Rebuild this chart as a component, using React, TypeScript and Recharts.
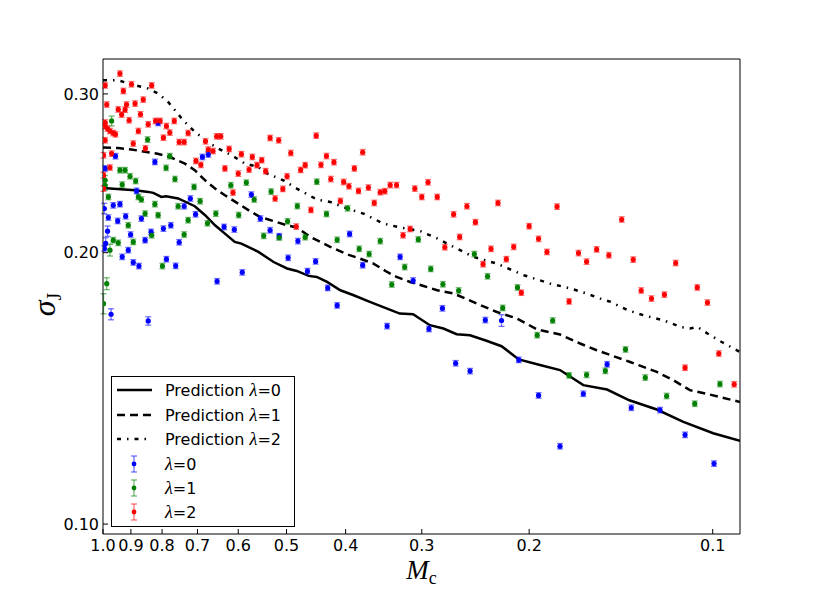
import React from 'react';
import { ComposedChart, Scatter, Line, XAxis, YAxis, ErrorBar, Legend } from 'recharts';

// ---------- axis ticks ----------
const X_TICKS = [1.0, 0.9, 0.8, 0.7, 0.6, 0.5, 0.4, 0.3, 0.2, 0.1];
const Y_TICKS = [0.1, 0.2, 0.3];
const X_DOMAIN: [number, number] = [0.0902, 1.0];
const Y_DOMAIN: [number, number] = [0.0975, 0.328];

// ---------- prediction curves [Mc, sigma_J] ----------
const PRED_L0: number[][] = [
  [1.0, 0.236], [0.886, 0.2346], [0.843, 0.2336], [0.827, 0.233], [0.802, 0.2306], [0.788, 0.231],
  [0.753, 0.2297], [0.707, 0.2252], [0.68, 0.2201], [0.655, 0.2145], [0.631, 0.21], [0.608, 0.2056],
  [0.593, 0.2047], [0.556, 0.2004], [0.525, 0.1953], [0.499, 0.1921], [0.481, 0.1909], [0.46, 0.1885],
  [0.446, 0.188], [0.429, 0.1856], [0.408, 0.1817], [0.388, 0.1794], [0.365, 0.1764], [0.342, 0.1734],
  [0.326, 0.1712], [0.31, 0.1709], [0.291, 0.1662], [0.2765, 0.1648], [0.263, 0.1624], [0.25, 0.162],
  [0.235, 0.1597], [0.222, 0.1575], [0.208, 0.1523], [0.192, 0.1501], [0.178, 0.1482], [0.163, 0.1426],
  [0.149, 0.141], [0.137, 0.1372], [0.1235, 0.134], [0.1117, 0.1298], [0.0998, 0.1261], [0.0902, 0.1237],
];
const PRED_L1: number[][] = [
  [1.0, 0.2616], [0.944, 0.2613], [0.898, 0.2603], [0.817, 0.2576], [0.777, 0.2554], [0.734, 0.2511],
  [0.707, 0.2469], [0.68, 0.2406], [0.655, 0.2356], [0.631, 0.2316], [0.6, 0.2267], [0.571, 0.2219],
  [0.552, 0.2191], [0.499, 0.2145], [0.481, 0.2133], [0.457, 0.2082], [0.424, 0.203], [0.398, 0.1992],
  [0.379, 0.197], [0.36, 0.1945], [0.342, 0.1904], [0.33, 0.188], [0.3135, 0.1856], [0.298, 0.1837],
  [0.283, 0.1817], [0.266, 0.1802], [0.244, 0.1757], [0.226, 0.1719], [0.2096, 0.1691], [0.194, 0.1644],
  [0.178, 0.1623], [0.165, 0.1586], [0.155, 0.1559], [0.1366, 0.1513], [0.1235, 0.1475], [0.116, 0.1444],
  [0.109, 0.1408], [0.102, 0.1394], [0.0902, 0.1366],
];
const PRED_L2: number[][] = [
  [1.0, 0.3106], [0.944, 0.3106], [0.898, 0.3075], [0.843, 0.3041], [0.812, 0.3003], [0.782, 0.2939],
  [0.762, 0.2877], [0.739, 0.2805], [0.711, 0.2734], [0.68, 0.2665], [0.647, 0.2609], [0.615, 0.2565],
  [0.585, 0.2511], [0.556, 0.249], [0.545, 0.2458], [0.506, 0.2406], [0.481, 0.2356], [0.446, 0.2291],
  [0.424, 0.2277], [0.398, 0.2239], [0.374, 0.221], [0.347, 0.2155], [0.3256, 0.2133], [0.302, 0.2114],
  [0.283, 0.2074], [0.2696, 0.2039], [0.247, 0.1979], [0.226, 0.1945], [0.204, 0.1888], [0.185, 0.1849],
  [0.171, 0.1825], [0.161, 0.1802], [0.153, 0.1779], [0.147, 0.1764], [0.138, 0.1727], [0.13, 0.1705],
  [0.1205, 0.1683], [0.113, 0.1655], [0.109, 0.1648], [0.106, 0.1655], [0.102, 0.1627], [0.0968, 0.1593],
  [0.0902, 0.1552],
];

// ---------- measurements [Mc, sigma_J, (error)] ----------
const OBS_L0: number[][] = [
  [0.812, 0.2786], [0.954, 0.2559], [0.822, 0.2522], [0.687, 0.2554], [0.672, 0.257], [0.992, 0.248],
  [0.881, 0.2342], [0.719, 0.2297], [0.571, 0.232], [0.736, 0.2252], [0.962, 0.2257], [0.938, 0.2264],
  [0.995, 0.2239, 0.003], [0.98, 0.2188], [0.918, 0.2195], [0.865, 0.2182], [0.705, 0.2206], [0.946, 0.2169],
  [0.796, 0.2127], [0.774, 0.2145], [0.633, 0.2136], [0.609, 0.2122], [0.983, 0.2113, 0.0028], [0.901, 0.2095],
  [0.834, 0.2109], [0.853, 0.2065], [0.99, 0.2048, 0.003], [0.75, 0.2054], [0.995, 0.2022], [0.909, 0.2013],
  [0.93, 0.1979], [0.787, 0.1967], [0.892, 0.1951], [0.873, 0.1933], [0.76, 0.1934], [0.591, 0.1902],
  [0.65, 0.1859], [0.97, 0.1709, 0.0024], [0.843, 0.168, 0.0018],
  [0.552, 0.2182], [0.532, 0.2118], [0.514, 0.2086], [0.479, 0.206], [0.394, 0.2098], [0.497, 0.1974],
  [0.448, 0.1956], [0.462, 0.1908], [0.375, 0.1937], [0.3256, 0.1979], [0.31, 0.1863], [0.428, 0.1828],
  [0.413, 0.1748], [0.2775, 0.1735], [0.342, 0.1658], [0.292, 0.1646],
  [0.236, 0.1684], [0.222, 0.1682, 0.0025], [0.208, 0.1521], [0.264, 0.1508], [0.25, 0.1478], [0.193, 0.1389],
  [0.163, 0.1395], [0.178, 0.122],
  [0.149, 0.1504], [0.136, 0.1346], [0.122, 0.1338], [0.111, 0.1256], [0.0995, 0.1167],
];
const OBS_L1: number[][] = [
  [0.968, 0.28, 0.0035], [0.845, 0.267], [0.938, 0.2469], [0.92, 0.2469], [0.903, 0.2431], [0.788, 0.2484],
  [0.777, 0.2559], [0.884, 0.2402], [0.762, 0.2414], [0.992, 0.2406, 0.003], [0.992, 0.2376, 0.003], [0.93, 0.238],
  [0.98, 0.2306], [0.875, 0.2306], [0.865, 0.2291], [0.709, 0.2366], [0.617, 0.2376], [0.582, 0.2392],
  [0.565, 0.2291], [0.822, 0.2264], [0.753, 0.2252], [0.693, 0.2281], [0.853, 0.221], [0.812, 0.2201],
  [0.653, 0.221], [0.599, 0.2202], [0.909, 0.2145], [0.725, 0.2173], [0.674, 0.2156], [0.832, 0.2091],
  [0.736, 0.2095], [0.962, 0.2065], [0.944, 0.2051], [0.892, 0.2056], [0.974, 0.2013, 0.003], [0.799, 0.1933],
  [0.986, 0.1848, 0.0028], [0.998, 0.1756, 0.0045],
  [0.446, 0.2398], [0.53, 0.2338], [0.48, 0.2253], [0.397, 0.224], [0.43, 0.2208], [0.498, 0.2167],
  [0.545, 0.2088], [0.514, 0.2079], [0.466, 0.2081], [0.413, 0.2067], [0.351, 0.206], [0.304, 0.2069],
  [0.38, 0.202], [0.366, 0.1993], [0.32, 0.1928], [0.29, 0.1919], [0.336, 0.1844], [0.277, 0.1845],
  [0.246, 0.1993], [0.234, 0.1883], [0.261, 0.1816], [0.209, 0.183], [0.221, 0.1737], [0.183, 0.1682],
  [0.194, 0.162], [0.172, 0.1462], [0.161, 0.1464],
  [0.139, 0.1562], [0.15, 0.1479], [0.129, 0.1454], [0.119, 0.1387], [0.107, 0.136], [0.0973, 0.143],
];
const OBS_L2: number[][] = [
  [0.938, 0.316], [0.992, 0.3066], [0.898, 0.3075], [0.832, 0.3066], [0.926, 0.3023], [0.859, 0.2957],
  [0.986, 0.292], [0.915, 0.292], [0.886, 0.2927], [0.944, 0.2884], [0.92, 0.2882], [0.868, 0.2848],
  [0.932, 0.2846], [0.906, 0.2805], [0.992, 0.2789], [0.843, 0.2776], [0.82, 0.28], [0.806, 0.28],
  [0.787, 0.2764], [0.764, 0.28], [0.992, 0.2762], [0.983, 0.2746], [0.974, 0.2729], [0.962, 0.2715],
  [0.954, 0.2706], [0.875, 0.2729], [0.777, 0.2718], [0.725, 0.2715], [0.796, 0.2683], [0.992, 0.2665],
  [0.75, 0.2653], [0.736, 0.2653], [0.892, 0.2643], [0.679, 0.2658], [0.651, 0.2692], [0.641, 0.2692],
  [0.852, 0.2611], [0.672, 0.2603], [0.66, 0.2593], [0.621, 0.2607], [0.593, 0.2572], [0.569, 0.2554],
  [0.968, 0.2576], [0.998, 0.2565], [0.704, 0.2528], [0.691, 0.2503], [0.631, 0.248], [0.6, 0.2448],
  [0.576, 0.2473], [0.974, 0.2486], [0.998, 0.2438], [0.998, 0.2356], [0.612, 0.2332],
  [0.532, 0.2681], [0.515, 0.2665], [0.447, 0.2697], [0.492, 0.258], [0.549, 0.2533], [0.559, 0.2501],
  [0.43, 0.256], [0.375, 0.2585], [0.466, 0.2501], [0.439, 0.2503], [0.418, 0.252], [0.474, 0.2471],
  [0.387, 0.248], [0.541, 0.2463], [0.499, 0.2431], [0.423, 0.2414], [0.403, 0.2396], [0.395, 0.237],
  [0.381, 0.2342], [0.367, 0.2362], [0.351, 0.2334], [0.345, 0.234], [0.338, 0.2377], [0.33, 0.2377],
  [0.308, 0.2356], [0.293, 0.2394], [0.3, 0.2306], [0.283, 0.2306], [0.507, 0.2354], [0.522, 0.2297],
  [0.408, 0.2283], [0.359, 0.2271], [0.456, 0.2231], [0.482, 0.2138], [0.3135, 0.2125], [0.322, 0.2091],
  [0.275, 0.2028],
  [0.253, 0.2252], [0.225, 0.2271], [0.18, 0.225], [0.266, 0.2206], [0.245, 0.2162], [0.2, 0.214],
  [0.26, 0.2082], [0.193, 0.2072], [0.231, 0.202], [0.212, 0.203], [0.187, 0.2004], [0.166, 0.1998],
  [0.155, 0.2017], [0.218, 0.1967], [0.238, 0.1942], [0.161, 0.1955], [0.206, 0.1806], [0.172, 0.1766],
  [0.141, 0.2177], [0.148, 0.1987], [0.135, 0.1965], [0.115, 0.1948], [0.131, 0.1816], [0.126, 0.1779],
  [0.12, 0.1797], [0.106, 0.183], [0.102, 0.1761], [0.0977, 0.1546], [0.111, 0.1491], [0.0922, 0.1429],
];

const PRED_LABELS = ['Prediction \u03bb=0', 'Prediction \u03bb=1', 'Prediction \u03bb=2'];
const OBS_LABELS = ['\u03bb=0', '\u03bb=1', '\u03bb=2'];
const OBS_COLORS = ['#0000ff', '#008000', '#ff0000'];
const PRED_DASH = ['0', '8 5', '4 6 1.5 6'];

const toLine = (arr: number[][]) => arr.map(([M, s]) => ({ M, s }));
const toObs = (arr: number[][]) => arr.map(([M, s, e]) => ({ M, s, e: e ?? s * 0.007 }));

const predData = [PRED_L0, PRED_L1, PRED_L2].map(toLine);
const obsData = [OBS_L0, OBS_L1, OBS_L2].map(toObs);

const SANS = 'DejaVu Sans, sans-serif';
const SERIF = 'Liberation Serif, DejaVu Serif, serif';

const makeDot = (color: string) => (props: any) => (
  <circle cx={props.cx} cy={props.cy} r={2.6} fill={color} stroke="none" />
);

const XTitle = (props: any) => {
  const vb = props.viewBox || { x: 103, y: 534, width: 637 };
  return (
    <text x={vb.x + vb.width / 2} y={vb.y + 45} textAnchor="middle" fontFamily={SERIF} fontSize={27} fill="#000">
      <tspan fontStyle="italic">M</tspan>
      <tspan fontSize={18} dy={5}>c</tspan>
    </text>
  );
};

const YTitle = (props: any) => {
  const vb = props.viewBox || { x: 43, y: 59, width: 60, height: 475 };
  const x = 55;
  const y = vb.y + vb.height / 2 + 8;
  return (
    <text x={x} y={y} transform={`rotate(-90, ${x}, ${y})`} textAnchor="middle" fontFamily={SERIF} fontSize={32} fill="#000">
      <tspan fontStyle="italic">{'\u03c3'}</tspan>
      <tspan fontSize={20} dy={6}>J</tspan>
    </text>
  );
};

const LegendLabel = ({ text, x, y }: { text: string; x: number; y: number }) => {
  const idx = text.indexOf('\u03bb');
  const before = text.slice(0, idx);
  const after = text.slice(idx + 1);
  return (
    <text x={x} y={y} fontFamily={SANS} fontSize={16} fill="#000">
      {before ? <tspan>{before}</tspan> : null}
      <tspan fontFamily={SERIF} fontStyle="italic" fontSize={18}>{'\u03bb'}</tspan>
      <tspan fontFamily={SANS} fontSize={16}>{after}</tspan>
    </text>
  );
};

const LegendBox = () => {
  const rows = [13, 38, 62, 87, 111, 135];
  return (
    <div style={{ width: 184, height: 151, boxSizing: 'border-box', border: '1px solid #000', background: '#fff' }}>
      <svg width={182} height={149} style={{ display: 'block' }}>
        {PRED_LABELS.map((lab, i) => (
          <g key={lab}>
            <line x1={5} x2={40} y1={rows[i]} y2={rows[i]} stroke="#000" strokeWidth={2.5}
              strokeDasharray={PRED_DASH[i] === '0' ? undefined : PRED_DASH[i]} />
            <LegendLabel text={lab} x={53} y={rows[i] + 6} />
          </g>
        ))}
        {OBS_LABELS.map((lab, i) => {
          const cy = rows[i + 3];
          const c = OBS_COLORS[i];
          return (
            <g key={lab}>
              <line x1={22} x2={22} y1={cy - 8} y2={cy + 8} stroke={c} strokeOpacity={0.55} strokeWidth={1.3} />
              <line x1={19} x2={25} y1={cy - 8} y2={cy - 8} stroke={c} strokeOpacity={0.55} strokeWidth={1.3} />
              <line x1={19} x2={25} y1={cy + 8} y2={cy + 8} stroke={c} strokeOpacity={0.55} strokeWidth={1.3} />
              <circle cx={22} cy={cy} r={2.4} fill={c} />
              <LegendLabel text={lab} x={53} y={cy + 6} />
            </g>
          );
        })}
      </svg>
    </div>
  );
};

const tickStyle = { fill: '#000', fontSize: 16, fontFamily: SANS };

export default function App() {
  return (
    <div style={{ position: 'absolute', left: 0, top: 0, background: '#fff' }}>
      <ComposedChart width={822} height={594} margin={{ top: 58, right: 81, bottom: 30, left: 43 }}>
        <XAxis
          xAxisId={0}
          dataKey="M"
          type="number"
          scale="log"
          domain={X_DOMAIN}
          allowDataOverflow
          reversed
          ticks={X_TICKS}
          interval={0}
          tickFormatter={(v: number) => v.toFixed(1)}
          tick={tickStyle}
          tickSize={-5}
          tickMargin={11}
          height={30}
          stroke="#000"
          tickLine={{ stroke: '#000' }}
          axisLine={{ stroke: '#000' }}
          label={{ content: XTitle }}
        />
        <XAxis
          xAxisId="top"
          orientation="top"
          dataKey="M"
          type="number"
          scale="log"
          domain={X_DOMAIN}
          allowDataOverflow
          reversed
          ticks={X_TICKS}
          interval={0}
          tick={false}
          tickSize={-5}
          height={1}
          stroke="#000"
          tickLine={{ stroke: '#000' }}
          axisLine={{ stroke: '#000' }}
        />
        <YAxis
          yAxisId={0}
          dataKey="s"
          type="number"
          scale="log"
          domain={Y_DOMAIN}
          allowDataOverflow
          ticks={Y_TICKS}
          interval={0}
          tickFormatter={(v: number) => v.toFixed(2)}
          tick={tickStyle}
          tickSize={-5}
          tickMargin={9}
          width={60}
          stroke="#000"
          tickLine={{ stroke: '#000' }}
          axisLine={{ stroke: '#000' }}
          label={{ content: YTitle }}
        />
        <YAxis
          yAxisId="right"
          orientation="right"
          dataKey="s"
          type="number"
          scale="log"
          domain={Y_DOMAIN}
          allowDataOverflow
          ticks={Y_TICKS}
          interval={0}
          tick={false}
          tickSize={-5}
          width={1}
          stroke="#000"
          tickLine={{ stroke: '#000' }}
          axisLine={{ stroke: '#000' }}
        />
        {predData.map((d, i) => (
          <Line
            key={PRED_LABELS[i]}
            name={PRED_LABELS[i]}
            data={d}
            dataKey="s"
            xAxisId={0}
            yAxisId={0}
            type="linear"
            stroke="#000"
            strokeWidth={2.5}
            strokeDasharray={PRED_DASH[i] === '0' ? undefined : PRED_DASH[i]}
            dot={false}
            activeDot={false}
            isAnimationActive={false}
          />
        ))}
        {obsData.map((d, i) => (
          <Scatter
            key={OBS_LABELS[i]}
            name={OBS_LABELS[i]}
            data={d}
            dataKey="s"
            xAxisId={0}
            yAxisId={0}
            fill={OBS_COLORS[i]}
            shape={makeDot(OBS_COLORS[i])}
            isAnimationActive={false}
          >
            <ErrorBar dataKey="e" direction="y" width={3} stroke={OBS_COLORS[i]} strokeOpacity={0.55} strokeWidth={1.3} isAnimationActive={false} />
          </Scatter>
        ))}
        <Legend
          layout="vertical"
          align="center"
          verticalAlign="middle"
          wrapperStyle={{ left: 111, top: 376, width: 184, height: 151 }}
          content={LegendBox}
        />
      </ComposedChart>
    </div>
  );
}
